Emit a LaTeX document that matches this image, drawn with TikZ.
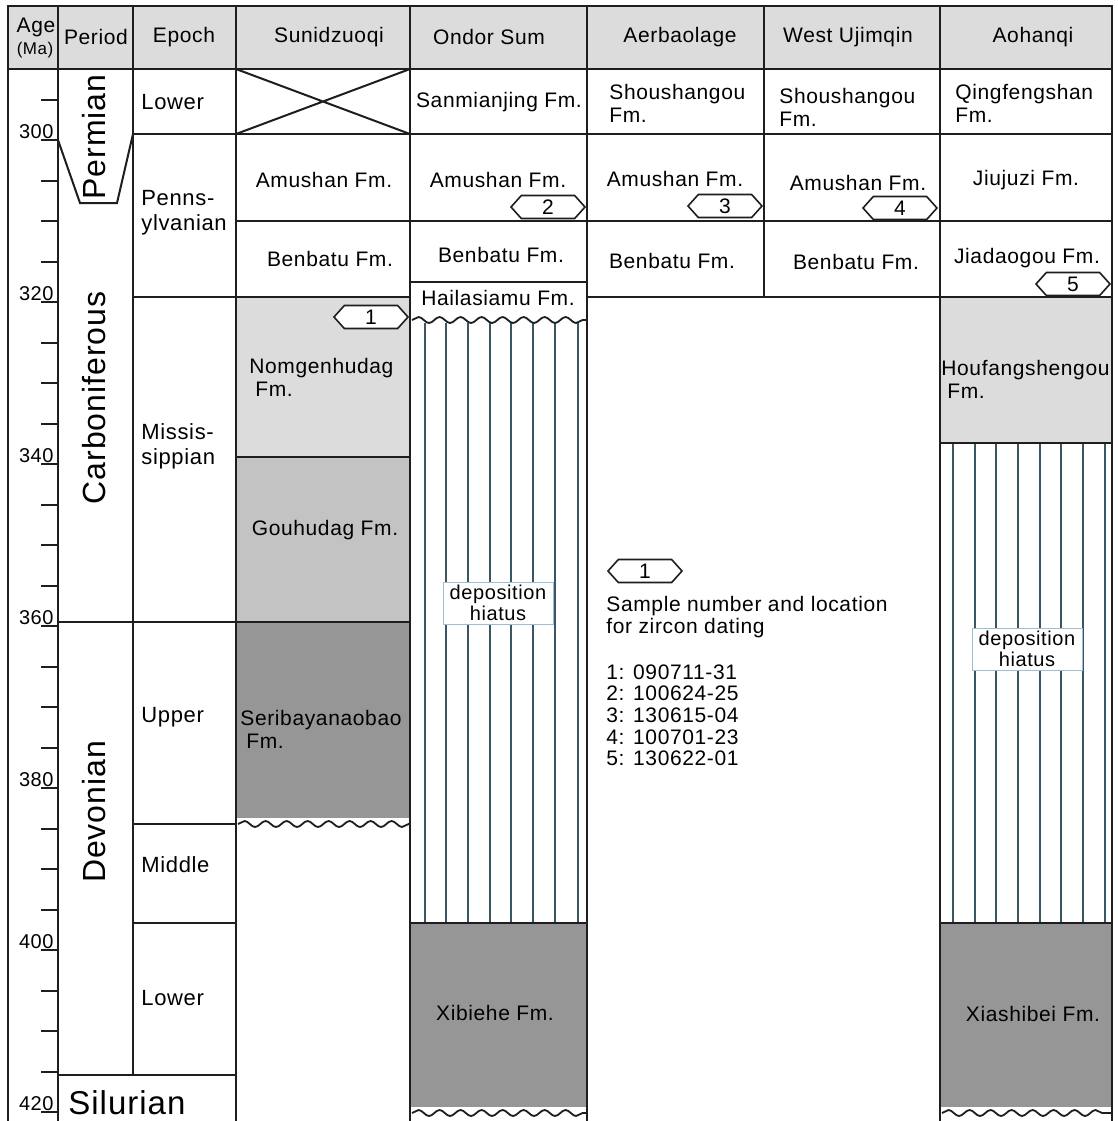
\documentclass[tikz,border=0pt]{standalone}
\usepackage{fontspec}
\setmainfont{Liberation Sans}[LetterSpace=3]
\usetikzlibrary{shapes.symbols,decorations.pathmorphing}
\definecolor{lightfm}{HTML}{DCDCDC}
\definecolor{midfm}{HTML}{C3C3C3}
\definecolor{darkfm}{HTML}{969696}
\definecolor{gridink}{HTML}{1E1E1E}
\definecolor{hatchink}{HTML}{3B5663}
\definecolor{boxink}{HTML}{9DBFD3}
\tikzset{
  gridrule/.style={line width=1pt, draw=gridink, line cap=rect},
  hatchrule/.style={line width=0.6pt, draw=hatchink},
  fm/.style={font=\fontsize{10.5}{11.5}\selectfont, inner sep=0pt},
  fmleft/.style={fm, anchor=west, align=left},
  epochtxt/.style={font=\fontsize{11}{12.5}\selectfont, inner sep=0pt, anchor=west, align=left},
  periodtxt/.style={font=\fontsize{16}{16.5}\selectfont, inner sep=0pt},
  agelabel/.style={font=\fontsize{10}{10}\selectfont, anchor=base east, inner sep=0pt},
  samplehex/.style={signal, signal to=east and west, signal pointer angle=96, draw=gridink, line width=0.8pt, fill=white, minimum width=37pt, minimum height=11.5pt, inner sep=0pt, font=\fontsize{10.5}{11}\selectfont},
  hiatusbox/.style={draw=boxink, line width=0.4pt, fill=white, align=center, minimum width=55pt, minimum height=21pt, inner sep=0.5pt, font=\fontsize{10}{10.5}\selectfont},
  unconf/.style={line width=0.9pt, draw=gridink, decorate, decoration={snake, amplitude=1.5pt, segment length=10.5pt}}
}
\begin{document}
\begin{tikzpicture}[x=0.5pt,y=-0.5pt]
\useasboundingbox (0,0) rectangle (1118,1121);
\fill[white] (0,0) rectangle (1118,1121);
\fill[lightfm] (8,6) rectangle (1112,69);
\fill[lightfm] (236,297) rectangle (410,457);
\fill[midfm] (236,457) rectangle (410,622);
\fill[darkfm] (236,622) rectangle (410,818);
\fill[darkfm] (410,923) rectangle (587,1107);
\fill[lightfm] (940,297) rectangle (1112,443);
\fill[darkfm] (940,923) rectangle (1112,1107);
\foreach \x in {425,446,468,490,511,533,555,578}
  \draw[hatchrule] (\x,323) -- (\x,923);
\foreach \x in {953,975,996,1018,1040,1061,1083,1105}
  \draw[hatchrule] (\x,443) -- (\x,923);
\draw[unconf] (412,320) -- (586,320);
\draw[unconf] (238,824) -- (409,824);
\draw[unconf] (412,1113) -- (586,1113);
\draw[unconf] (942,1113) -- (1111,1113);
\draw[gridrule] (8,6) -- (1112,6);
\foreach \x in {8,58,236,410,587,940,1112}
  \draw[gridrule] (\x,6) -- (\x,1121);
\draw[gridrule] (133,6) -- (133,1075);
\draw[gridrule] (764,6) -- (764,297);
\draw[gridrule] (8,69) -- (1112,69);
\draw[gridrule] (133,134) -- (1112,134);
\draw[gridrule] (236,221) -- (1112,221);
\draw[gridrule] (133,297) -- (410,297);
\draw[gridrule] (587,297) -- (1112,297);
\draw[gridrule] (410,282) -- (587,282);
\draw[gridrule] (236,457) -- (410,457);
\draw[gridrule] (940,443) -- (1112,443);
\draw[gridrule] (58,622) -- (410,622);
\draw[gridrule] (133,824) -- (236,824);
\draw[gridrule] (133,923) -- (236,923);
\draw[gridrule] (410,923) -- (587,923);
\draw[gridrule] (940,923) -- (1112,923);
\draw[gridrule] (58,1075) -- (236,1075);
\draw[gridrule] (58,140) -- (80,203) -- (117,203) -- (133,134);
\draw[gridrule] (236,69) -- (410,134) (236,134) -- (410,69);
\foreach \a in {295,300,...,420}{
  \pgfmathsetmacro\ty{140+8.1*(\a-300)}
  \draw[gridrule] (42,\ty) -- (58,\ty);
}
\foreach \a in {300,320,...,420}{
  \pgfmathsetmacro\ty{140+8.1*(\a-300)}
  \node[agelabel] (age\a) at (54,\ty-2) {\a};
}
\node[fm] (hAge) at (36,27) {Age};
\node[fm, font=\fontsize{8.5}{9}\selectfont] (hMa) at (35,50) {(Ma)};
\node[fm] (hPeriod) at (96,37) {Period};
\node[fm] (hEpoch) at (184,37) {Epoch};
\node[fm] (hSun) at (329,37) {Sunidzuoqi};
\node[fm] (hOndor) at (489,37) {Ondor Sum};
\node[fm] (hAerb) at (680,37) {Aerbaolage};
\node[fm] (hWest) at (848,37) {West Ujimqin};
\node[fm] (hAohan) at (1033,37) {Aohanqi};
\node[periodtxt, rotate=90] (perPerm) at (94,137) {Permian};
\node[periodtxt, rotate=90] (perCarb) at (94,398) {Carboniferous};
\node[periodtxt, rotate=90] (perDev) at (94,812) {Devonian};
\node[periodtxt, anchor=west, font=\fontsize{16.5}{17}\selectfont] (perSil) at (68,1103) {Silurian};
\node[epochtxt] (epLowP) at (141,102) {Lower};
\node[epochtxt] (epPenn) at (141,213) {Penns-\\ylvanian};
\node[epochtxt] (epMiss) at (141,446) {Missis-\\sippian};
\node[epochtxt] (epUpp) at (141,717) {Upper};
\node[epochtxt] (epMid) at (141,865) {Middle};
\node[epochtxt] (epLowD) at (141,998) {Lower};
\node[fm] (sunAmu) at (324,180) {Amushan Fm.};
\node[fm] (sunBen) at (330,259) {Benbatu Fm.};
\node[samplehex] (smp1) at (371,317) {1};
\node[fmleft] (sunNom) at (249,377) {Nomgenhudag\\\hspace*{3pt}Fm.};
\node[fm] (sunGou) at (325,530) {Gouhudag Fm.};
\node[fmleft] (sunSer) at (240,729) {Seribayanaobao\\\hspace*{3pt}Fm.};
\node[fm] (ondSan) at (499,102) {Sanmianjing Fm.};
\node[fm] (ondAmu) at (498,180) {Amushan Fm.};
\node[samplehex] (smp2) at (548,207) {2};
\node[fm] (ondBen) at (501,255) {Benbatu Fm.};
\node[fm] (ondHai) at (498,298) {Hailasiamu Fm.};
\node[hiatusbox] (ondGap) at (498,603) {deposition\\hiatus};
\node[fm] (ondXib) at (495,1013) {Xibiehe Fm.};
\node[fmleft] (aerSho) at (609,103) {Shoushangou\\Fm.};
\node[fm] (aerAmu) at (675,179) {Amushan Fm.};
\node[samplehex] (smp3) at (725,206) {3};
\node[fm] (aerBen) at (672,261) {Benbatu Fm.};
\node[fmleft] (wesSho) at (779,107) {Shoushangou\\Fm.};
\node[fm] (wesAmu) at (858,183) {Amushan Fm.};
\node[samplehex] (smp4) at (900,208) {4};
\node[fm] (wesBen) at (856,262) {Benbatu Fm.};
\node[fmleft] (aohQin) at (955,103) {Qingfengshan\\Fm.};
\node[fm] (aohJiu) at (1026,180) {Jiujuzi Fm.};
\node[fm] (aohJia) at (1027,258) {Jiadaogou Fm.};
\node[samplehex] (smp5) at (1073,284) {5};
\node[fmleft] (aohHou) at (941,379) {Houfangshengou\\\hspace*{3pt}Fm.};
\node[hiatusbox] (aohGap) at (1027,649) {deposition\\hiatus};
\node[fm] (aohXia) at (1033,1014) {Xiashibei Fm.};
\node[samplehex] (keyHex) at (645,571) {1};
\node[fmleft, anchor=north west, font=\fontsize{10.5}{10.85}\selectfont] (keyText) at (606,596) {Sample number and location\\for zircon dating\\[12pt]1: 090711-31\\2: 100624-25\\3: 130615-04\\4: 100701-23\\5: 130622-01};
\end{tikzpicture}
\end{document}
